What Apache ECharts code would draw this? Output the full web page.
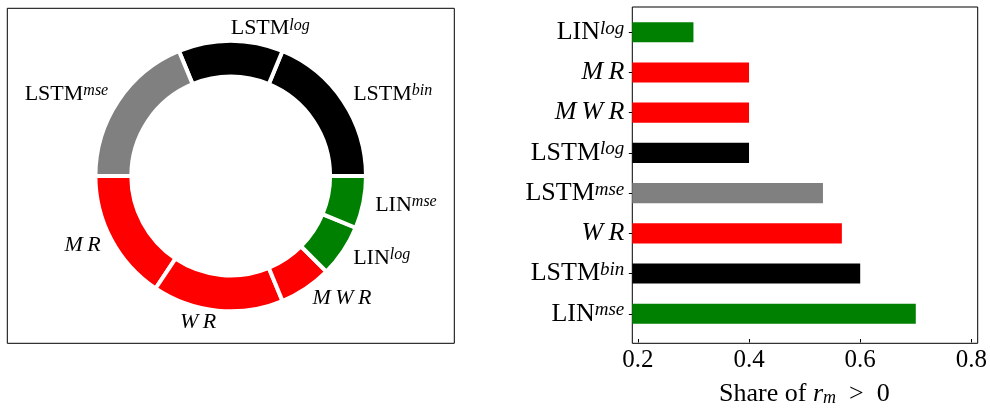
<!DOCTYPE html>
<html>
<head>
<meta charset="utf-8">
<script src="https://cdn.jsdelivr.net/npm/echarts@6/dist/echarts.min.js"></script>
<style>
  html, body { margin: 0; padding: 0; background: #fff; }
  #chart { width: 990px; height: 412px; }
</style>
</head>
<body>
<div id="chart"></div>
<script>
// donut: counts per method, counterclockwise from 3 o'clock
var pieNames = ['LSTM^bin', 'LSTM^log', 'LSTM^mse', 'MR', 'WR', 'MWR', 'LIN^log', 'LIN^mse'];
var pieValues = [6, 4, 6, 5, 5, 2, 2, 2];
var pieColors = ['#000000', '#000000', '#808080', '#ff0000', '#ff0000', '#ff0000', '#008000', '#008000'];

// bars, listed bottom to top
var barNames = ['LIN^mse', 'LSTM^bin', 'WR', 'LSTM^mse', 'LSTM^log', 'MWR', 'MR', 'LIN^log'];
var barValues = [0.7, 0.6, 0.567, 0.533, 0.4, 0.4, 0.4, 0.3];
var barColors = ['#008000', '#000000', '#ff0000', '#808080', '#000000', '#ff0000', '#ff0000', '#008000'];
var xTicks = [0.2, 0.4, 0.6, 0.8];

var FONT = 'Liberation Serif';

// "LSTM^log" -> LSTM with italic superscript, plain names are math italic
function label(name) {
  var p = name.split('^');
  if (p.length > 1) return '{b|' + p[0] + '}{s|' + p[1] + '}';
  return '{i|' + p[0].split('').join('\u2009') + '}';
}
function rich(size) {
  return {
    b: {fontFamily: FONT, fontSize: size, lineHeight: size, color: '#000'},
    i: {fontFamily: FONT, fontSize: size, lineHeight: size, fontStyle: 'italic', color: '#000'},
    s: {fontFamily: FONT, fontSize: Math.round(size * 0.72), lineHeight: 8, fontStyle: 'italic',
        verticalAlign: 'top', color: '#000'}
  };
}

var chart = echarts.init(document.getElementById('chart'));

var option = {
  animation: false,
  backgroundColor: '#fff',
  grid: [
    {left: 7.3, top: 8.3, width: 447, height: 335, show: true, borderColor: '#000', borderWidth: 1},
    {left: 632.3, top: 7, width: 345.4, height: 336.3, show: true, borderColor: '#000', borderWidth: 1},
    {left: 632.3, top: 12.1, width: 345.4, height: 326.1}
  ],
  xAxis: [
    {gridIndex: 0, type: 'value', show: false},
    {gridIndex: 1, type: 'value', show: false},
    {
      gridIndex: 2, type: 'value', min: 0.19, max: 0.809, offset: 5.1,
      axisLine: {show: false},
      splitLine: {show: false},
      axisTick: {show: true, length: 3.5, lineStyle: {color: '#000', width: 1}, customValues: xTicks},
      axisLabel: {
        customValues: xTicks, margin: 9, color: '#000', fontFamily: FONT, fontSize: 25,
        formatter: function (v) { return v.toFixed(1); }
      },
      name: '{t|Share of }{r|r}{m|m}{t|  >  0}',
      nameLocation: 'middle',
      nameGap: 42,
      nameTextStyle: {
        rich: {
          t: {fontFamily: FONT, fontSize: 26, lineHeight: 26, color: '#000'},
          r: {fontFamily: FONT, fontSize: 26, lineHeight: 26, fontStyle: 'italic', color: '#000'},
          m: {fontFamily: FONT, fontSize: 18, lineHeight: 10, fontStyle: 'italic', verticalAlign: 'bottom', color: '#000'}
        }
      }
    }
  ],
  yAxis: [
    {gridIndex: 0, type: 'value', show: false},
    {gridIndex: 1, type: 'value', show: false},
    {
      gridIndex: 2, type: 'category', data: barNames,
      axisLine: {show: false},
      axisTick: {show: true, alignWithLabel: true, length: 3.5, lineStyle: {color: '#000', width: 1}},
      axisLabel: {margin: 8, formatter: label, rich: rich(26)}
    }
  ],
  series: [
    {
      type: 'pie',
      center: [230.7, 176],
      radius: [99.4, 135.3],
      startAngle: 0,
      clockwise: false,
      avoidLabelOverlap: false,
      silent: true,
      itemStyle: {borderColor: '#fff', borderWidth: 4},
      label: {
        show: true, position: 'outside', distanceToLabelLine: 0,
        formatter: function (p) { return label(p.name); },
        rich: rich(22)
      },
      labelLine: {show: false, length: 12, length2: 0},
      data: pieNames.map(function (n, i) {
        return {name: n, value: pieValues[i], itemStyle: {color: pieColors[i]}};
      })
    },
    {
      type: 'bar',
      xAxisIndex: 2,
      yAxisIndex: 2,
      barWidth: '50%',
      clip: true,
      silent: true,
      data: barValues.map(function (v, i) {
        return {value: v, itemStyle: {color: barColors[i]}};
      })
    }
  ]
};

chart.setOption(option);
</script>
</body>
</html>
